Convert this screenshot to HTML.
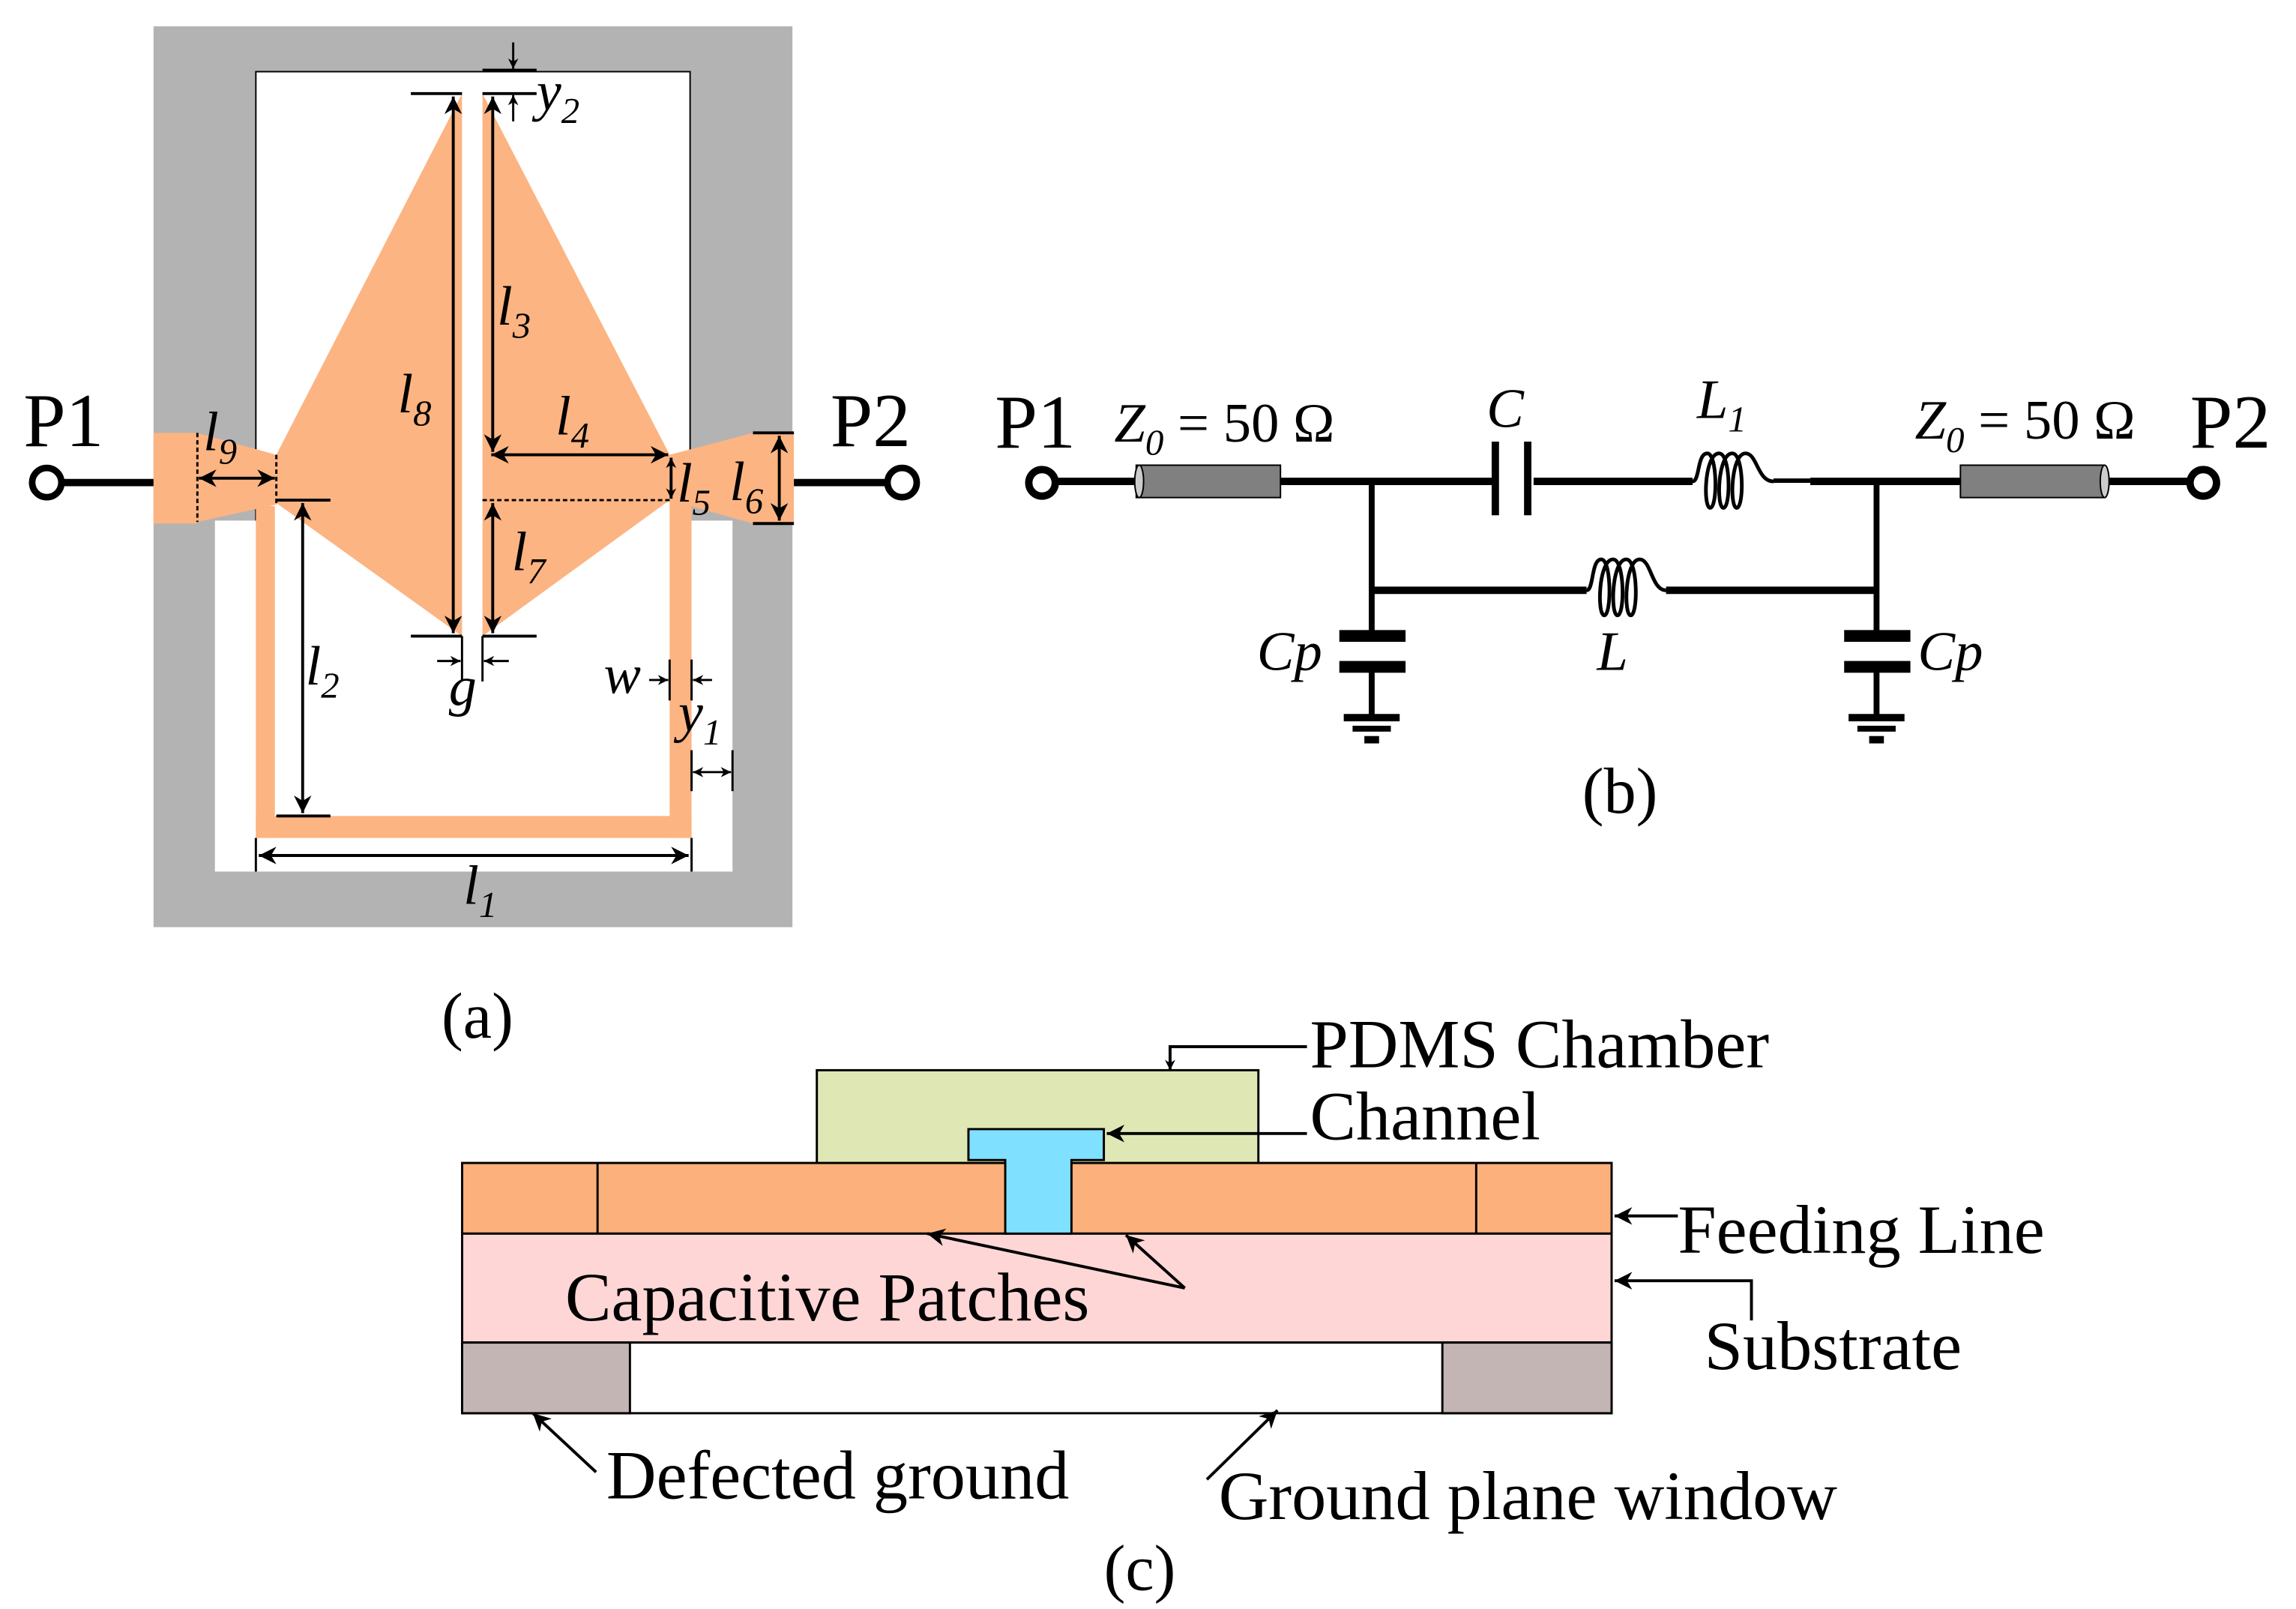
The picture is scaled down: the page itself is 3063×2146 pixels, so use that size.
<!DOCTYPE html>
<html><head><meta charset="utf-8"><style>html,body{margin:0;padding:0;background:#fff}svg{display:block}</style></head>
<body>
<svg width="3063" height="2146" viewBox="0 0 1560 1093" preserveAspectRatio="none" xmlns="http://www.w3.org/2000/svg" font-family="Liberation Serif, serif">
<defs>
<marker id="a" viewBox="0 0 10 10" refX="10" refY="5" markerWidth="16" markerHeight="12" markerUnits="userSpaceOnUse" orient="auto-start-reverse"><path d="M0,0 L10,5 L0,10 L3,5z" fill="#000"/></marker>
<marker id="s" viewBox="0 0 10 10" refX="10" refY="5" markerWidth="9" markerHeight="7" markerUnits="userSpaceOnUse" orient="auto-start-reverse"><path d="M0,0 L10,5 L0,10 L3,5z" fill="#000"/></marker>
</defs>
<!-- (a) -->
<g transform="scale(0.9934)">
<rect x="105" y="18" width="437" height="616" fill="#b3b3b3"/>
<rect x="175" y="49" width="297" height="310" fill="#fff" stroke="#000" stroke-width="1"/>
<rect x="147" y="356" width="354" height="240" fill="#fff"/>
<rect x="176" y="300" width="295" height="60" fill="#fff"/>
<g fill="#fcb482">
<rect x="175" y="346" width="13" height="227"/>
<rect x="175" y="558" width="298" height="15"/>
<rect x="458" y="342" width="15" height="231"/>
<rect x="105" y="296" width="30" height="62"/>
<polygon points="135,296 189,311 189,345 135,357"/>
<polygon points="316,64 189,311 189,344 316,435"/>
<polygon points="330,64 458,311 458,342 330,435"/>
<polygon points="458,311 515,296 515,358 458,342"/>
<rect x="515" y="296" width="28" height="62"/>
</g>
<g stroke="#000" fill="none">
<line x1="135" y1="296" x2="135" y2="357" stroke-dasharray="3,2" stroke-width="1.5"/>
<line x1="189" y1="311" x2="189" y2="345" stroke-dasharray="3,2" stroke-width="1.5"/>
<line x1="330" y1="342" x2="458" y2="342" stroke-dasharray="3,2" stroke-width="1.5"/>
<g stroke-width="2">
<line x1="281" y1="64" x2="316" y2="64"/><line x1="330" y1="64" x2="367" y2="64"/>
<line x1="330" y1="48" x2="367" y2="48"/>
<line x1="281" y1="435" x2="316" y2="435"/><line x1="330" y1="435" x2="367" y2="435"/>
<line x1="316" y1="435" x2="316" y2="466" stroke-width="1.5"/><line x1="330" y1="435" x2="330" y2="466" stroke-width="1.5"/>
<line x1="189" y1="342" x2="226" y2="342"/><line x1="189" y1="558" x2="226" y2="558"/>
<line x1="515" y1="296" x2="543" y2="296"/><line x1="515" y1="358" x2="543" y2="358"/>
<line x1="175" y1="573" x2="175" y2="596" stroke-width="1.5"/><line x1="473" y1="573" x2="473" y2="596" stroke-width="1.5"/>
<line x1="458" y1="451" x2="458" y2="479" stroke-width="1.5"/><line x1="473" y1="451" x2="473" y2="479" stroke-width="1.5"/>
<line x1="473" y1="513" x2="473" y2="541" stroke-width="1.5"/><line x1="501" y1="513" x2="501" y2="541" stroke-width="1.5"/>
<line x1="310" y1="66" x2="310" y2="433" marker-start="url(#a)" marker-end="url(#a)"/>
<line x1="337" y1="66" x2="337" y2="309" marker-start="url(#a)" marker-end="url(#a)"/>
<line x1="337" y1="344" x2="337" y2="433" marker-start="url(#a)" marker-end="url(#a)"/>
<line x1="207" y1="344" x2="207" y2="556" marker-start="url(#a)" marker-end="url(#a)"/>
<line x1="336" y1="311" x2="457" y2="311" marker-start="url(#a)" marker-end="url(#a)"/>
<line x1="459" y1="313" x2="459" y2="341" marker-start="url(#s)" marker-end="url(#s)"/>
<line x1="533" y1="298" x2="533" y2="356" marker-start="url(#a)" marker-end="url(#a)"/>
<line x1="136" y1="327" x2="188" y2="327" marker-start="url(#a)" marker-end="url(#a)"/>
<line x1="177" y1="585" x2="471" y2="585" marker-start="url(#a)" marker-end="url(#a)"/>
<line x1="474" y1="528" x2="500" y2="528" marker-start="url(#s)" marker-end="url(#s)" stroke-width="1.5"/>
</g>
<g stroke-width="1.5">
<line x1="351" y1="29" x2="351" y2="47" marker-end="url(#s)"/>
<line x1="351" y1="83" x2="351" y2="65" marker-end="url(#s)"/>
<line x1="299" y1="452" x2="315" y2="452" marker-end="url(#s)"/>
<line x1="348" y1="452" x2="331" y2="452" marker-end="url(#s)"/>
<line x1="444" y1="465" x2="457" y2="465" marker-end="url(#s)"/>
<line x1="487" y1="465" x2="474" y2="465" marker-end="url(#s)"/>
</g>
<line x1="40" y1="330" x2="105" y2="330" stroke-width="5"/>
<line x1="543" y1="330" x2="609" y2="330" stroke-width="5"/>
<circle cx="32" cy="330" r="10" stroke-width="4.5" fill="#fff"/>
<circle cx="617" cy="330" r="10" stroke-width="4.5" fill="#fff"/>
</g>
<g font-size="52" fill="#000">
<text x="16" y="305">P1</text><text x="568" y="305">P2</text>
</g>
<g font-size="38" font-style="italic" fill="#000">
<text x="139" y="308">l<tspan font-size="25" dy="9">9</tspan></text>
<text x="272" y="282">l<tspan font-size="25" dy="9">8</tspan></text>
<text x="340" y="222">l<tspan font-size="25" dy="9">3</tspan></text>
<text x="380" y="297">l<tspan font-size="25" dy="9">4</tspan></text>
<text x="463" y="343">l<tspan font-size="25" dy="9">5</tspan></text>
<text x="499" y="342">l<tspan font-size="25" dy="9">6</tspan></text>
<text x="350" y="390">l<tspan font-size="25" dy="9">7</tspan></text>
<text x="209" y="468">l<tspan font-size="25" dy="9">2</tspan></text>
<text x="307" y="482">g</text>
<text x="413" y="474">w</text>
<text x="464" y="500">y<tspan font-size="25" dy="9">1</tspan></text>
<text x="367" y="75">y<tspan font-size="25" dy="9">2</tspan></text>
<text x="317" y="618">l<tspan font-size="25" dy="9">1</tspan></text>
</g>
</g>
<text x="300" y="705" font-size="44">(a)</text>
<!-- (b) -->
<g stroke="#000" fill="none" stroke-width="5">
<line x1="716" y1="327" x2="772" y2="327"/>
<line x1="870" y1="327" x2="1014" y2="327"/>
<line x1="1042" y1="327" x2="1150" y2="327"/>
<line x1="1230" y1="327" x2="1332" y2="327"/>
<line x1="1430" y1="327" x2="1489" y2="327"/>
<line x1="932" y1="327" x2="932" y2="432" stroke-width="4"/>
<line x1="1275" y1="327" x2="1275" y2="432" stroke-width="4"/>
<line x1="932" y1="401" x2="1078" y2="401"/>
<line x1="1132" y1="401" x2="1275" y2="401"/>
<line x1="932" y1="456" x2="932" y2="488" stroke-width="4"/>
<line x1="1275" y1="456" x2="1275" y2="488" stroke-width="4"/>
<line x1="1016" y1="300" x2="1016" y2="350" stroke-width="5"/>
<line x1="1038" y1="300" x2="1038" y2="350" stroke-width="5"/>
<circle cx="708" cy="328" r="9" stroke-width="5" fill="#fff"/>
<circle cx="1497" cy="328" r="9" stroke-width="5" fill="#fff"/>
<g stroke-width="2.5">
<path d="M1150,327 C1155,327 1153,308 1160,308 C1167,308 1167,345 1162,345 C1157,345 1158,308 1168,308 C1176,308 1176,345 1171,345 C1166,345 1167,308 1177,308 C1185,308 1185,345 1180,345 C1175,345 1176,308 1186,308 C1194,308 1194,327 1205,327"/>
<path d="M1078,401 C1083,401 1081,380 1088,380 C1095,380 1095,418 1090,418 C1085,418 1086,380 1096,380 C1104,380 1104,418 1099,418 C1094,418 1095,380 1105,380 C1113,380 1113,418 1108,418 C1103,418 1104,380 1114,380 C1122,380 1122,401 1132,401"/>
</g>
</g>
<rect x="1205" y="325" width="25" height="3" fill="#000"/>
<g fill="#808080" stroke="#000" stroke-width="1">
<rect x="772" y="316" width="98" height="22"/>
<rect x="1332" y="316" width="98" height="22"/>
</g>
<ellipse cx="774" cy="327" rx="3" ry="11" fill="#ccc" stroke="#000" stroke-width="1"/>
<ellipse cx="1430" cy="327" rx="3" ry="11" fill="#ccc" stroke="#000" stroke-width="1"/>
<g fill="#000">
<rect x="910" y="428" width="45" height="8"/><rect x="910" y="449" width="45" height="8"/>
<rect x="1253" y="428" width="45" height="8"/><rect x="1253" y="449" width="45" height="8"/>
<rect x="913" y="485" width="38" height="5"/><rect x="919" y="493" width="26" height="4"/><rect x="927" y="500" width="10" height="5"/>
<rect x="1256" y="485" width="38" height="5"/><rect x="1262" y="493" width="26" height="4"/><rect x="1270" y="500" width="10" height="5"/>
</g>
<g font-size="52" fill="#000"><text x="676" y="304">P1</text><text x="1488" y="304">P2</text></g>
<g font-size="38" fill="#000">
<text x="757" y="300"><tspan font-style="italic">Z</tspan><tspan font-size="25" dy="9" font-style="italic">0</tspan><tspan dy="-9"> = 50 Ω</tspan></text>
<text x="1301" y="298"><tspan font-style="italic">Z</tspan><tspan font-size="25" dy="9" font-style="italic">0</tspan><tspan dy="-9"> = 50 Ω</tspan></text>
<g font-style="italic">
<text x="1010" y="290">C</text>
<text x="1153" y="284">L<tspan font-size="25" dy="9">1</tspan></text>
<text x="854" y="455">Cp</text>
<text x="1085" y="455">L</text>
<text x="1303" y="455">Cp</text>
</g>
</g>
<text x="1075" y="552" font-size="44">(b)</text>
<!-- (c) -->
<rect x="555" y="727" width="300" height="65" fill="#dfe8b5" stroke="#000" stroke-width="1.5"/>
<rect x="314" y="790" width="781" height="48" fill="#fcb07c" stroke="#000" stroke-width="1.5"/>
<line x1="406" y1="790" x2="406" y2="838" stroke="#000" stroke-width="1.5"/>
<line x1="1003" y1="790" x2="1003" y2="838" stroke="#000" stroke-width="1.5"/>
<rect x="314" y="838" width="781" height="74" fill="#ffd6d6" stroke="#000" stroke-width="1.5"/>
<rect x="314" y="912" width="781" height="48" fill="#fff" stroke="#000" stroke-width="1.5"/>
<rect x="314" y="912" width="114" height="48" fill="#c4b5b5" stroke="#000" stroke-width="1.5"/>
<rect x="980" y="912" width="115" height="48" fill="#c4b5b5" stroke="#000" stroke-width="1.5"/>
<path d="M658,767 H750 V788 H728 V838 H683 V788 H658 Z" fill="#80e0ff" stroke="#000" stroke-width="1.5"/>
<g stroke="#000" stroke-width="2" fill="none">
<polyline points="888,711 795,711 795,727" marker-end="url(#s)"/>
<line x1="888" y1="770" x2="752" y2="770" marker-end="url(#a)"/>
<line x1="1140" y1="826" x2="1097" y2="826" marker-end="url(#a)"/>
<polyline points="1190,897 1190,870 1097,870" marker-end="url(#a)"/>
<line x1="805" y1="875" x2="630" y2="838" marker-end="url(#a)"/>
<line x1="805" y1="875" x2="765" y2="839" marker-end="url(#a)"/>
<line x1="405" y1="1000" x2="362" y2="960" marker-end="url(#a)"/>
<line x1="820" y1="1005" x2="868" y2="958" marker-end="url(#a)"/>
</g>
<g font-size="47" fill="#000">
<text x="890" y="725">PDMS Chamber</text>
<text x="890" y="774">Channel</text>
<text x="1140" y="851">Feeding Line</text>
<text x="1158" y="930">Substrate</text>
<text x="384" y="897">Capacitive Patches</text>
<text x="412" y="1018">Defected ground</text>
<text x="828" y="1032">Ground plane window</text>
<text x="750" y="1080" font-size="44">(c)</text>
</g>
</svg>
</body></html>
